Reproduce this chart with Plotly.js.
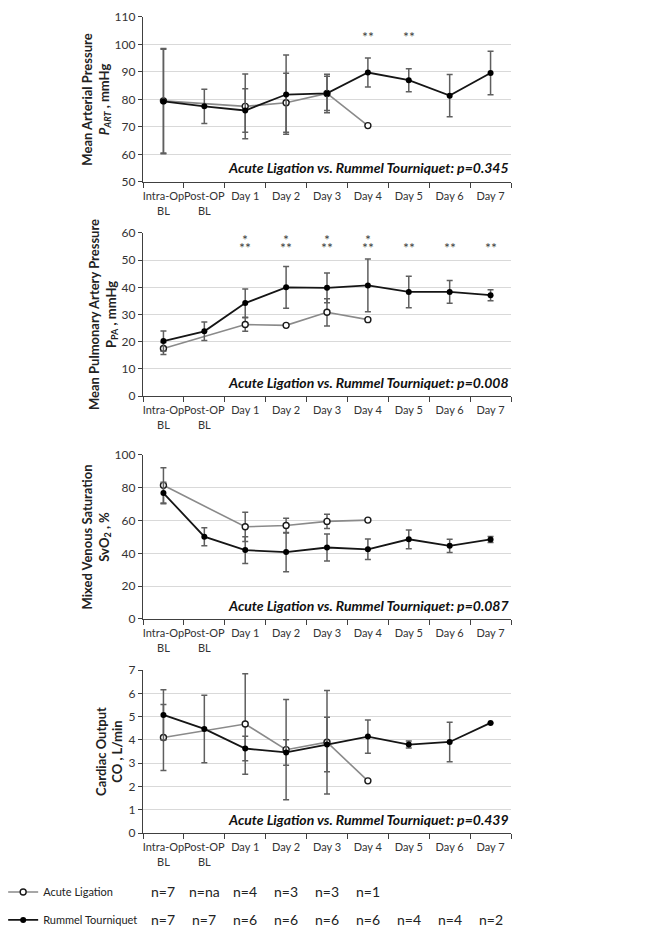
<!DOCTYPE html>
<html>
<head>
<meta charset="utf-8">
<script src="https://cdn.plot.ly/plotly-3.0.1.min.js"></script>
<style>
  body { margin: 0; background: #fff; }
  #chart { width: 658px; height: 942px; }
</style>
</head>
<body>
<div id="chart"></div>
<script>
// time points (x categories)
let categories = ['Intra-Op BL', 'Post-OP BL', 'Day 1', 'Day 2', 'Day 3', 'Day 4', 'Day 5', 'Day 6', 'Day 7'];
let tickLabels = ['Intra-Op<br>BL', 'Post-OP<br>BL', 'Day 1', 'Day 2', 'Day 3', 'Day 4', 'Day 5', 'Day 6', 'Day 7'];

// Mean arterial pressure, mmHg
let mapAcute = [79.5, null, 77.5, 78.8, 82.2, 70.5, null, null, null];
let mapAcuteErr = [19, 0, 11.8, 10.7, 6.2, 0, 0, 0, 0];
let mapRummel = [79.3, 77.5, 76.0, 81.8, 82.2, 89.8, 87.0, 81.4, 89.6];
let mapRummelErr = [19, 6.2, 7.9, 14.4, 7.0, 5.3, 4.2, 7.7, 7.9];

// Mean pulmonary artery pressure, mmHg
let paAcute = [17.5, null, 26.3, 26.0, 30.8, 28.1, null, null, null];
let paAcuteErr = [2.2, 0, 2.5, 0, 5.0, 0, 0, 0, 0];
let paRummel = [20.2, 23.8, 34.2, 40.0, 39.8, 40.7, 38.3, 38.3, 37.1];
let paRummelErr = [3.7, 3.4, 5.2, 7.7, 5.5, 9.7, 5.8, 4.2, 2.0];

// Mixed venous saturation, %
let svAcute = [81.5, null, 56.2, 57.0, 59.5, 60.3, null, null, null];
let svAcuteErr = [10.7, 0, 8.9, 4.5, 4.3, 0, 0, 0, 0];
let svRummel = [76.8, 50.2, 42.0, 40.8, 43.6, 42.5, 48.6, 44.6, 48.5];
let svRummelErr = [6.6, 5.5, 8.2, 12.0, 8.3, 6.2, 5.7, 4.0, 1.8];

// Cardiac output, L/min
let coAcute = [4.10, null, 4.68, 3.58, 3.90, 2.24, null, null, null];
let coAcuteErr = [1.42, 0, 2.16, 2.15, 2.22, 0, 0, 0, 0];
let coRummel = [5.07, 4.47, 3.63, 3.46, 3.80, 4.14, 3.80, 3.91, 4.73];
let coRummelErr = [1.08, 1.45, 0.53, 0.55, 1.17, 0.71, 0.15, 0.85, 0];

// significance marks
let starsMap = ['', '', '', '', '', '**', '**', '', ''];
let starsPaTop = ['', '', '*', '*', '*', '*', '', '', ''];
let starsPaBottom = ['', '', '**', '**', '**', '**', '**', '**', '**'];

// group sizes
let nAcute = ['n=7', 'n=na', 'n=4', 'n=3', 'n=3', 'n=1', '', '', ''];
let nRummel = ['n=7', 'n=7', 'n=6', 'n=6', 'n=6', 'n=6', 'n=4', 'n=4', 'n=2'];

let pValues = ['0.345', '0.008', '0.087', '0.439'];

let font = 'Lato, "Open Sans", sans-serif';
let errColor = '#5f5f5f';

function acuteTrace(y, err, n, first) {
  return {
    x: categories, y: y, type: 'scatter', mode: 'lines+markers',
    name: 'Acute Ligation', connectgaps: true,
    xaxis: 'x' + n, yaxis: 'y' + n,
    showlegend: first, legend: 'legend',
    line: {color: '#8a8a8a', width: 1.6},
    marker: {symbol: 'circle', size: 6, color: '#ffffff', line: {color: '#1a1a1a', width: 1.4}},
    error_y: {type: 'data', array: err, visible: true, color: errColor, thickness: 1.5, width: 3}
  };
}

function rummelTrace(y, err, n, first) {
  return {
    x: categories, y: y, type: 'scatter', mode: 'lines+markers',
    name: 'Rummel Tourniquet',
    xaxis: 'x' + n, yaxis: 'y' + n,
    showlegend: first, legend: 'legend2',
    line: {color: '#151515', width: 1.8},
    marker: {symbol: 'circle', size: 6, color: '#000000'},
    error_y: {type: 'data', array: err, visible: true, color: errColor, thickness: 1.5, width: 3}
  };
}

let data = [
  acuteTrace(mapAcute, mapAcuteErr, 1, true), rummelTrace(mapRummel, mapRummelErr, 1, true),
  acuteTrace(paAcute, paAcuteErr, 2, false), rummelTrace(paRummel, paRummelErr, 2, false),
  acuteTrace(svAcute, svAcuteErr, 3, false), rummelTrace(svRummel, svRummelErr, 3, false),
  acuteTrace(coAcute, coAcuteErr, 4, false), rummelTrace(coRummel, coRummelErr, 4, false)
];

function xAxis(n) {
  return {
    anchor: 'y' + n, type: 'category', range: [-0.5, 8.5],
    tickmode: 'array', tickvals: categories, ticktext: tickLabels, tickangle: 0,
    ticks: 'outside', tickson: 'boundaries', ticklen: 5, tickwidth: 1.2, tickcolor: '#404040',
    ticklabelstandoff: 4,
    showline: true, linecolor: '#404040', linewidth: 1.2, showgrid: false,
    tickfont: {family: font, size: 11, color: '#333'}
  };
}

function yAxis(n, domain, range, dtick, title) {
  return {
    anchor: 'x' + n, domain: domain, range: range, dtick: dtick,
    ticks: 'outside', ticklen: 4, tickwidth: 1.2, tickcolor: '#404040',
    showline: true, linecolor: '#404040', linewidth: 1.2,
    showgrid: true, gridcolor: '#d9d9d9', gridwidth: 1, zeroline: false,
    tickfont: {family: font, size: 12, color: '#333'},
    title: {text: title, font: {family: font, size: 13, color: '#222'}, standoff: 2}
  };
}

let annotations = [];
for (let i = 0; i < 4; i++) {
  annotations.push({
    xref: 'x' + (i + 1) + ' domain', yref: 'y' + (i + 1) + ' domain',
    x: 1, y: 0.085, xanchor: 'right', yanchor: 'middle', showarrow: false,
    text: '<b><i>Acute Ligation vs. Rummel Tourniquet: p=' + pValues[i] + '</i></b>',
    font: {family: font, size: 14, color: '#111'}
  });
}
categories.forEach(function (c, i) {
  if (starsMap[i]) annotations.push({xref: 'x1', yref: 'y1', x: c, y: 103.0, text: starsMap[i], showarrow: false, font: {family: font, size: 14, color: '#404040'}});
  if (starsPaTop[i]) annotations.push({xref: 'x2', yref: 'y2', x: c, y: 57.6, text: starsPaTop[i], showarrow: false, font: {family: font, size: 14, color: '#404040'}});
  if (starsPaBottom[i]) annotations.push({xref: 'x2', yref: 'y2', x: c, y: 54.6, text: starsPaBottom[i], showarrow: false, font: {family: font, size: 14, color: '#404040'}});
  // n table under the last panel
  if (nAcute[i]) annotations.push({xref: 'x4', yref: 'paper', x: c, y: 0.0531, yanchor: 'middle', text: nAcute[i], showarrow: false, font: {family: font, size: 14, color: '#222'}});
  annotations.push({xref: 'x4', yref: 'paper', x: c, y: 0.0234, yanchor: 'middle', text: nRummel[i], showarrow: false, font: {family: font, size: 14, color: '#222'}});
});

let layout = {
  width: 658, height: 942,
  margin: {l: 143, r: 147, t: 0, b: 0},
  paper_bgcolor: '#fff', plot_bgcolor: '#fff',
  font: {family: font, color: '#333'},
  xaxis: xAxis(1), xaxis2: xAxis(2), xaxis3: xAxis(3), xaxis4: xAxis(4),
  yaxis: yAxis(1, [0.8068, 0.9820], [50, 110], 10, '<b>Mean Arterial Pressure<br><i>P<sub>ART</sub></i> , mmHg</b>'),
  yaxis2: yAxis(2, [0.5796, 0.7527], [0, 60], 10, '<b>Mean Pulmonary Artery Pressure<br>P<sub>PA</sub> , mmHg</b>'),
  yaxis3: yAxis(3, [0.3429, 0.5170], [0, 100], 20, '<b>Mixed Venous Saturation<br>SvO<sub>2</sub> , %</b>'),
  yaxis4: yAxis(4, [0.1157, 0.2887], [0, 7], 1, '<b>Cardiac Output<br>CO , L/min</b>'),
  legend: {x: -0.38, xanchor: 'left', y: 0.0531, yanchor: 'middle', bgcolor: 'rgba(0,0,0,0)',
    font: {family: font, size: 11, color: '#222'}, itemwidth: 30},
  legend2: {x: -0.38, xanchor: 'left', y: 0.0234, yanchor: 'middle', bgcolor: 'rgba(0,0,0,0)',
    font: {family: font, size: 11, color: '#222'}, itemwidth: 30},
  annotations: annotations
};

Plotly.newPlot('chart', data, layout, {displayModeBar: false});
</script>
</body>
</html>
